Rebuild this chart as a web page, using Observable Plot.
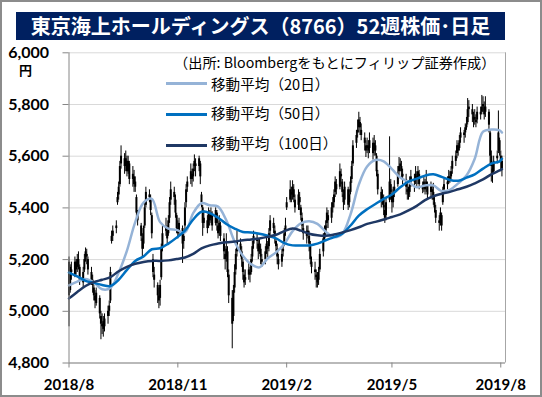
<!DOCTYPE html>
<html><head><meta charset="utf-8">
<script src="https://cdn.jsdelivr.net/npm/d3@7"></script>
<script src="https://cdn.jsdelivr.net/npm/@observablehq/plot@0.6"></script>
<style>
body{margin:0;background:#fff}
#wrap{position:relative;width:542px;height:397px;overflow:hidden;background:#fff}
#title{position:absolute;left:16px;top:12px;width:489px;height:28px;background:#002060;color:#fff;font-family:"Noto Sans CJK JP",sans-serif;font-weight:bold;font-size:20px;line-height:28px;text-align:center;white-space:nowrap;letter-spacing:0}
#chart{position:absolute;left:0;top:40px}
.lg{position:absolute;font-family:"Noto Sans CJK JP",sans-serif;font-size:14.6px;line-height:15px;color:#000;white-space:nowrap}
.sw{position:absolute;height:2.5px;width:41px;left:166px}
#unit{position:absolute;left:19px;top:62px;font-family:"Noto Sans CJK JP",sans-serif;font-weight:bold;font-size:13px;line-height:16px;color:#000}
#frame{position:absolute;left:0;top:0;width:542px;height:397px;box-sizing:border-box;border:2px solid #8c8c8c;pointer-events:none}
</style></head>
<body>
<div id="wrap">
  <div id="title">東京海上ホールディングス（8766）52週株価･日足</div>
  <div id="chart"></div>
  <div id="unit">円</div>
  <div class="lg" id="src" style="left:174px;top:55px;font-size:14.2px">（出所: Bloombergをもとにフィリップ証券作成）</div>
  <div class="sw" id="sw20" style="top:82px"></div>
  <div class="lg" id="lg20" style="left:211px;top:76px"></div>
  <div class="sw" id="sw50" style="top:113px"></div>
  <div class="lg" id="lg50" style="left:211px;top:105px"></div>
  <div class="sw" id="sw100" style="top:144px"></div>
  <div class="lg" id="lg100" style="left:211px;top:135px"></div>
  <div id="frame"></div>
</div>
<script>
// ---- data ----
const seriesNames = ["移動平均（20日）", "移動平均（50日）", "移動平均（100日）"];
const seriesColors = ["#95b3d7", "#0070c0", "#1f3864"];
const yTicks = [4800, 5000, 5200, 5400, 5600, 5800, 6000];
const xTickLabels = ["2018/8", "2018/11", "2019/2", "2019/5", "2019/8"];

const open = [
5190,5080,5160,5140,5190, 5170,5200,5170,5110,5160, 5210,5220,5200,5150,5120, 5090,5060,5030,5050,4980,
4940,4960,4940,4980,5000, 5040,5270,5290,5320,5420, 5450,5490,5570,5590,5560, 5580,5540,5570,5510,5520,
5480,5440,5370,5330,5280, 5260,5330,5410,5450,5430, 5370,5200,5140,5100,5060, 5050,5130,5250,5310,5310,
5300,5360,5430,5460,5430, 5370,5320,5310,5320,5270, 5330,5420,5480,5510,5530, 5520,5560,5570,5560,5570,
5450,5400,5340,5350,5330, 5370,5360,5370,5340,5380, 5330,5310,5330,5280,5220, 5210,5230,5140,5050,4980,
5090,5160,5230,5260,5230, 5190,5140,5120,5140,5150, 5150,5210,5260,5280,5260, 5240,5240,5200,5200,5240,
5250,5250,5310,5340,5310, 5270,5240,5200,5190,5230, 5260,5310,5400,5430,5460, 5450,5470,5430,5410,5440,
5400,5360,5320,5310,5300, 5290,5250,5190,5160,5140, 5130,5120,5160,5230,5280, 5310,5340,5370,5360,5400,
5420,5460,5490,5480,5530, 5500,5450,5430,5470,5420, 5460,5510,5570,5650,5690, 5710,5730,5700,5670,5640,
5630,5640,5630,5650,5620, 5640,5600,5530,5460,5430, 5430,5390,5370,5430,5490, 5450,5420,5460,5490,5540,
5560,5560,5530,5510,5470, 5460,5460,5500,5510,5510, 5520,5510,5530,5480,5480, 5490,5480,5490,5460,5470,
5460,5420,5390,5350,5350, 5370,5420,5470,5490,5500, 5520,5520,5550,5580,5610, 5640,5630,5670,5690,5690,
5710,5730,5780,5780,5750, 5740,5740,5740,5770,5770, 5790,5790,5770,5770,5690, 5600,5550,5540,5590,5620,
5660,5600,5580];
const high = [
5210,5180,5190,5210,5200, 5220,5230,5180,5170,5220, 5245,5240,5210,5170,5140, 5100,5080,5090,5060,5000,
4990,4980,4990,5020,5040, 5170,5310,5330,5350,5460, 5500,5580,5640,5610,5620, 5600,5600,5580,5560,5545,
5520,5450,5390,5340,5300, 5330,5420,5480,5470,5450, 5380,5220,5170,5110,5090, 5120,5260,5330,5360,5330,
5370,5440,5500,5480,5450, 5380,5350,5360,5330,5310, 5420,5490,5520,5570,5550, 5570,5605,5590,5600,5580,
5460,5410,5390,5370,5400, 5390,5400,5385,5400,5390, 5350,5370,5345,5300,5250, 5300,5250,5160,5080,5100,
5180,5240,5310,5280,5250, 5200,5160,5160,5185,5170, 5220,5270,5310,5300,5280, 5280,5260,5220,5250,5285,
5270,5320,5370,5360,5330, 5280,5260,5220,5240,5260, 5320,5360,5440,5505,5480, 5505,5490,5450,5470,5460,
5410,5380,5340,5330,5330, 5310,5270,5210,5190,5160, 5150,5170,5240,5300,5330, 5350,5400,5390,5420,5440,
5470,5520,5510,5570,5550, 5510,5470,5500,5480,5470, 5520,5580,5660,5700,5740, 5770,5750,5725,5690,5660,
5670,5660,5690,5670,5680, 5660,5610,5545,5480,5470, 5450,5410,5440,5675,5510, 5470,5480,5505,5560,5595,
5590,5580,5550,5530,5500, 5480,5520,5545,5530,5560, 5540,5560,5545,5500,5520, 5510,5545,5500,5500,5490,
5495,5440,5410,5370,5400, 5380,5480,5510,5520,5545, 5540,5560,5600,5620,5660, 5650,5680,5710,5700,5725,
5750,5823,5815,5800,5770, 5780,5760,5790,5790,5835, 5830,5810,5830,5780,5700, 5620,5570,5600,5620,5775,
5670,5620,5600];
const low = [
4940,5070,5120,5130,5140, 5150,5160,5100,5090,5150, 5190,5180,5140,5100,5070, 5040,5010,5020,4970,4890,
4910,4900,4920,4950,4980, 5030,5260,5270,5300,5410, 5430,5480,5550,5530,5540, 5520,5530,5490,5480,5460,
5460,5360,5330,5270,5205, 5240,5320,5400,5420,5370, 5280,5130,5090,5030,5010, 5020,5120,5230,5290,5260,
5290,5340,5410,5410,5360, 5300,5280,5290,5185,5240, 5310,5400,5460,5490,5480, 5500,5540,5520,5540,5490,
5400,5290,5320,5300,5320, 5330,5340,5310,5330,5310, 5280,5290,5270,5200,5160, 5190,5130,5030,4855,4960,
5070,5140,5210,5210,5170, 5120,5090,5100,5120,5110, 5140,5190,5240,5240,5200, 5220,5180,5170,5180,5220,
5200,5230,5290,5300,5260, 5230,5180,5160,5170,5210, 5250,5290,5390,5420,5420, 5430,5420,5380,5390,5390,
5350,5310,5275,5260,5280, 5230,5180,5145,5120,5090, 5090,5100,5150,5210,5270, 5290,5320,5320,5340,5380,
5400,5440,5450,5470,5490, 5440,5390,5410,5390,5400, 5450,5495,5560,5630,5670, 5690,5680,5660,5620,5595,
5610,5590,5610,5585,5600, 5600,5520,5450,5400,5410, 5370,5340,5350,5420,5430, 5380,5400,5440,5480,5520,
5540,5510,5490,5450,5430, 5430,5440,5480,5460,5490, 5480,5490,5470,5455,5460, 5450,5460,5430,5440,5430,
5410,5380,5340,5310,5330, 5310,5410,5455,5470,5490, 5495,5510,5530,5560,5590, 5600,5620,5650,5650,5670,
5700,5720,5750,5730,5710, 5720,5710,5725,5740,5760, 5770,5740,5750,5690,5560, 5500,5495,5530,5570,5610,
5600,5540,5520];
const close = [
5060,5170,5150,5190,5160, 5200,5180,5120,5150,5200, 5230,5210,5160,5120,5100, 5060,5040,5070,4990,4950,
4950,4930,4970,5000,5020, 5150,5290,5310,5330,5440, 5480,5560,5600,5560,5590, 5540,5580,5510,5530,5490,
5500,5380,5350,5290,5240, 5320,5400,5460,5440,5390, 5300,5150,5120,5060,5040, 5100,5240,5300,5320,5280,
5350,5420,5470,5440,5380, 5320,5300,5340,5260,5290, 5400,5470,5500,5540,5510, 5550,5580,5560,5590,5520,
5420,5340,5360,5320,5380, 5350,5380,5330,5390,5340, 5300,5340,5290,5230,5200, 5240,5150,5060,4950,5080,
5150,5220,5270,5240,5200, 5150,5110,5130,5160,5140, 5200,5250,5290,5270,5230, 5250,5210,5190,5230,5260,
5240,5300,5350,5320,5290, 5250,5210,5180,5220,5240, 5300,5330,5420,5470,5450, 5480,5440,5400,5450,5420,
5370,5330,5300,5290,5310, 5260,5200,5170,5150,5130, 5110,5150,5220,5280,5300, 5330,5380,5350,5400,5420,
5450,5500,5470,5540,5520, 5460,5420,5480,5410,5450, 5500,5560,5640,5680,5700, 5740,5710,5680,5650,5620,
5640,5620,5660,5610,5650, 5620,5540,5470,5430,5440, 5400,5360,5420,5500,5460, 5420,5450,5480,5530,5560,
5570,5540,5520,5480,5460, 5450,5490,5520,5500,5530, 5510,5540,5490,5470,5500, 5470,5500,5450,5480,5460,
5430,5400,5360,5340,5380, 5330,5460,5490,5500,5520, 5510,5540,5580,5600,5640, 5620,5660,5690,5680,5710,
5720,5780,5790,5760,5740, 5750,5730,5770,5760,5790, 5800,5760,5790,5720,5600, 5560,5530,5580,5600,5690,
5620,5580,5550];

// moving averages, sampled weekly (every 7 days from 2018/8/1) plus the last trading day
const ma20 = [5100,5115,5125,5112,5085,5090,5150,5235,5345,5420,5435,5345,5320,5315,5305,5380,5418,5410,5405,5352,
5270,5215,5182,5170,5205,5228,5260,5310,5340,5348,5338,5308,5287,5300,5375,5490,5560,5585,5580,5550,
5518,5500,5480,5487,5487,5465,5470,5495,5525,5590,5695,5703,5700,5692];
const ma50 = [5150,5135,5118,5110,5102,5098,5122,5160,5195,5212,5240,5244,5262,5285,5312,5355,5385,5380,5362,5338,
5320,5307,5305,5300,5292,5282,5264,5255,5255,5255,5262,5275,5287,5300,5332,5370,5395,5415,5435,5452,
5480,5502,5513,5525,5530,5520,5508,5505,5517,5530,5552,5571,5580,5590];
const ma100 = [5050,5075,5098,5113,5122,5132,5155,5172,5184,5191,5195,5195,5197,5202,5208,5222,5243,5255,5262,5267,
5270,5275,5278,5282,5288,5296,5310,5320,5312,5300,5294,5292,5297,5305,5314,5325,5338,5346,5355,5365,
5375,5390,5408,5430,5445,5455,5462,5472,5482,5495,5510,5530,5545,5550];

// ---- build tables ----
const start = new Date(Date.UTC(2018, 7, 1));
const tradingDays = d3.utcDays(start, new Date(Date.UTC(2019, 7, 3))).filter(d => d.getUTCDay() % 6 !== 0);
const candles = close.map((c, i) => ({date: tradingDays[i], open: open[i], high: high[i], low: low[i], close: c}));
const lastDay = candles[candles.length - 1].date;
const maDates = d3.range(ma20.length).map(k => k < ma20.length - 1 ? d3.utcDay.offset(start, 7 * k) : lastDay);
const maSeries = [ma20, ma50, ma100];
const maTables = maSeries.map(arr => arr.map((v, i) => ({date: maDates[i], v})));
const xTicks = xTickLabels.map(s => { const [y, m] = s.split("/").map(Number); return new Date(Date.UTC(y, m - 1, 1)); });
const xDomain = [start, new Date(Date.UTC(2019, 7, 5))];

const chart = Plot.plot({
  width: 542, height: 357,
  marginLeft: 68.5, marginRight: 37, marginTop: 12.3, marginBottom: 34.5,
  x: {type: "utc", domain: xDomain},
  y: {domain: [4800, 6000]},
  style: {fontFamily: "Lato, 'Noto Sans', sans-serif", fontWeight: "bold", color: "#000", background: "transparent", overflow: "visible"},
  marks: [
    Plot.gridY(yTicks, {stroke: "#d9d9d9", strokeOpacity: 1, strokeWidth: 1}),
    Plot.ruleX(candles, {x: "date", y1: "low", y2: "high", stroke: "#000", strokeWidth: 1}),
    Plot.ruleX(candles, {x: "date", y1: "open", y2: "close", stroke: "#000", strokeWidth: 2}),
    ...maTables.map((t, i) => Plot.line(t, {x: "date", y: "v", stroke: seriesColors[i], strokeWidth: 2.5, curve: "catmull-rom"})),
    Plot.ruleX([xDomain[1]], {stroke: "#a6a6a6", strokeWidth: 1}),
    Plot.ruleX([xDomain[0]], {stroke: "#868686", strokeWidth: 1}),
    Plot.ruleY([4800], {stroke: "#868686", strokeWidth: 1}),
    Plot.axisY({ticks: yTicks, tickFormat: d3.format(","), tickSize: 6, tickPadding: 14, label: null, fontSize: 16, stroke: "#868686", fill: "#000"}),
    Plot.axisX({ticks: xTicks, tickFormat: (d, i) => xTickLabels[i], tickSize: 5, tickPadding: 11, label: null, fontSize: 15, stroke: "#868686", fill: "#000"})
  ]
});
document.getElementById("chart").appendChild(chart);

// legend
[["sw20","lg20"],["sw50","lg50"],["sw100","lg100"]].forEach(([sw, lg], i) => {
  document.getElementById(sw).style.background = seriesColors[i];
  document.getElementById(lg).textContent = seriesNames[i];
});
</script>
</body></html>
